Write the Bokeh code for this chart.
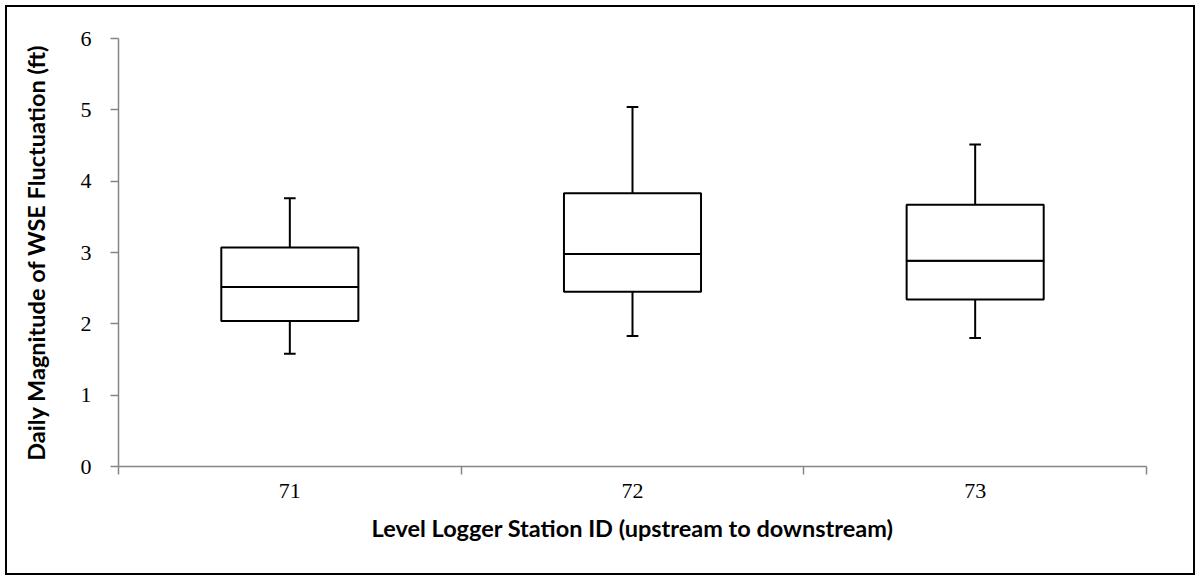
from bokeh.plotting import figure
from bokeh.models import Range1d, FixedTicker
from bokeh.embed import file_html
from bokeh.resources import INLINE

categories = ["71", "72", "73"]
lower = [1.58, 1.83, 1.80]
q1 = [2.04, 2.45, 2.34]
median = [2.515, 2.98, 2.885]
q3 = [3.07, 3.83, 3.67]
upper = [3.76, 5.04, 4.515]

xs = [i + 0.5 for i in range(len(categories))]
box_w = 0.4
cap_w = 0.034

# host box: 5px margin + 2px border
OX, OY = 7, 7
W, H = 1186, 566
p = figure(width=W, height=H, output_backend="svg", toolbar_location=None,
           x_range=Range1d(0, len(categories)), y_range=Range1d(0, 6),
           min_border_left=118 - OX, min_border_right=OX + W - 1147 + 5,
           min_border_top=38 - OY, min_border_bottom=OY + H - 466 + 4)
p.styles = {"border": "2px solid black", "margin": "5px", "box-sizing": "content-box"}
p.outline_line_color = None
p.grid.visible = False
p.background_fill_color = "white"
p.border_fill_color = "white"

# whiskers
p.segment(x0=xs, y0=q3, x1=xs, y1=upper, line_color="black", line_width=2)
p.segment(x0=xs, y0=lower, x1=xs, y1=q1, line_color="black", line_width=2)
p.segment(x0=[x - cap_w / 2 for x in xs], y0=upper, x1=[x + cap_w / 2 for x in xs], y1=upper,
          line_color="black", line_width=2)
p.segment(x0=[x - cap_w / 2 for x in xs], y0=lower, x1=[x + cap_w / 2 for x in xs], y1=lower,
          line_color="black", line_width=2)
# boxes
p.vbar(x=xs, width=box_w, bottom=q1, top=median, fill_color="white", line_color="black", line_width=2)
p.vbar(x=xs, width=box_w, bottom=median, top=q3, fill_color="white", line_color="black", line_width=2)

grey = "#868686"
xa = p.xaxis[0]
xa.ticker = FixedTicker(ticks=xs, minor_ticks=list(range(len(categories) + 1)))
xa.major_label_overrides = {x: c for x, c in zip(xs, categories)}
xa.major_tick_out = 0
xa.major_tick_in = 0
xa.minor_tick_out = 8
xa.minor_tick_in = 0
xa.minor_tick_line_color = grey
xa.minor_tick_line_width = 1.5
xa.axis_line_color = grey
xa.axis_line_width = 1.5
xa.major_label_text_font = "Liberation Serif"
xa.major_label_text_font_size = "22px"
xa.major_label_text_color = "black"
xa.major_label_standoff = 9
xa.axis_label = "Level Logger Station ID (upstream to downstream)"
xa.axis_label_text_font = "Lato"
xa.axis_label_text_font_style = "bold"
xa.axis_label_text_font_size = "23.5px"
xa.axis_label_text_color = "black"
xa.axis_label_standoff = 13

ya = p.yaxis[0]
ya.ticker = FixedTicker(ticks=[0, 1, 2, 3, 4, 5, 6], minor_ticks=[])
ya.major_tick_out = 8
ya.major_tick_in = 0
ya.major_tick_line_color = grey
ya.major_tick_line_width = 1.5
ya.axis_line_color = grey
ya.axis_line_width = 1.5
ya.major_label_text_font = "Liberation Serif"
ya.major_label_text_font_size = "22px"
ya.major_label_text_color = "black"
ya.major_label_standoff = 19
ya.axis_label = "Daily Magnitude of WSE Fluctuation (ft)"
ya.axis_label_text_font = "Lato"
ya.axis_label_text_font_style = "bold"
ya.axis_label_text_font_size = "23.5px"
ya.axis_label_text_color = "black"
ya.axis_label_standoff = 28

open("out.html", "w").write(file_html(p, INLINE))
